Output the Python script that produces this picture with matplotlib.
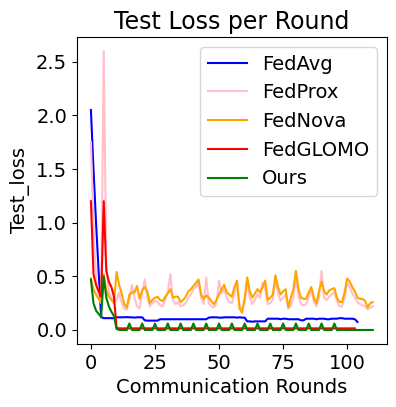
import matplotlib
matplotlib.use("Agg")
import matplotlib.pyplot as plt

# ==========================
# Data
# ==========================

fedavg = [
    2.05, 1.50, 1.00, 0.55, 0.12, 0.11, 0.11, 0.11, 0.11, 0.11,
    0.118, 0.118, 0.118, 0.118, 0.12, 0.118, 0.118, 0.115, 0.118, 0.118,
    0.118, 0.09, 0.087, 0.087, 0.087, 0.087, 0.087, 0.10, 0.10, 0.10,
    0.10, 0.10, 0.10, 0.10, 0.10, 0.10, 0.10, 0.10, 0.10, 0.10,
    0.10, 0.10, 0.10, 0.10, 0.10, 0.10, 0.115, 0.118, 0.118, 0.118,
    0.115, 0.115, 0.118, 0.118, 0.118, 0.118, 0.118, 0.115, 0.118, 0.115,
    0.115, 0.08, 0.08, 0.077, 0.08, 0.08, 0.08, 0.08, 0.08, 0.105,
    0.105, 0.105, 0.105, 0.105, 0.10, 0.105, 0.105, 0.10, 0.10, 0.10,
    0.10, 0.10, 0.09, 0.09, 0.105, 0.105, 0.105, 0.105, 0.10, 0.105,
    0.105, 0.105, 0.10, 0.10, 0.105, 0.105, 0.105, 0.11, 0.11, 0.105,
    0.105, 0.105, 0.105, 0.10, 0.075,
]

fedprox = [
    1.75, 0.95, 0.50, 0.30, 0.25, 2.60, 0.60, 0.35, 0.30, 0.26,
    0.28, 0.35, 0.25, 0.20, 0.19, 0.28, 0.42, 0.30, 0.22, 0.20,
    0.35, 0.47, 0.30, 0.22, 0.25, 0.27, 0.26, 0.23, 0.22, 0.28,
    0.36, 0.52, 0.28, 0.24, 0.26, 0.22, 0.23, 0.25, 0.30, 0.33,
    0.38, 0.40, 0.45, 0.30, 0.24, 0.49, 0.25, 0.22, 0.21, 0.25,
    0.46, 0.34, 0.38, 0.30, 0.26, 0.25, 0.33, 0.44, 0.22, 0.20,
    0.25, 0.45, 0.30, 0.24, 0.28, 0.33, 0.30, 0.44, 0.38, 0.24,
    0.25, 0.28, 0.48, 0.34, 0.27, 0.30, 0.33, 0.20, 0.22, 0.30,
    0.50, 0.32, 0.24, 0.23, 0.24, 0.30, 0.38, 0.26, 0.22, 0.30,
    0.55, 0.30, 0.28, 0.31, 0.33, 0.35, 0.27, 0.22, 0.22, 0.30,
    0.44, 0.40, 0.34, 0.30, 0.26, 0.24, 0.23, 0.22, 0.19, 0.21,
    0.22,
]

fednova = [
    0.48, 0.38, 0.33, 0.29, 0.26, 0.52, 0.37, 0.31, 0.28, 0.25,
    0.54, 0.42, 0.34, 0.24, 0.21, 0.33, 0.35, 0.35, 0.41, 0.29,
    0.37, 0.40, 0.36, 0.25, 0.28, 0.30, 0.31, 0.28, 0.27, 0.31,
    0.34, 0.38, 0.30, 0.31, 0.31, 0.26, 0.28, 0.31, 0.36, 0.38,
    0.41, 0.44, 0.47, 0.33, 0.29, 0.32, 0.30, 0.27, 0.24, 0.28,
    0.33, 0.38, 0.42, 0.35, 0.33, 0.31, 0.40, 0.46, 0.20, 0.16,
    0.30, 0.49, 0.36, 0.30, 0.34, 0.38, 0.35, 0.40, 0.46, 0.28,
    0.30, 0.33, 0.51, 0.40, 0.33, 0.36, 0.38, 0.21, 0.30, 0.38,
    0.55, 0.38, 0.30, 0.29, 0.29, 0.35, 0.40, 0.30, 0.25, 0.36,
    0.45, 0.36, 0.33, 0.37, 0.38, 0.39, 0.30, 0.26, 0.26, 0.35,
    0.48, 0.45, 0.40, 0.36, 0.30, 0.29, 0.29, 0.27, 0.21, 0.25,
    0.26,
]

fedglomo = [
    1.20, 0.52, 0.42, 0.36, 0.31, 1.20, 0.55, 0.45, 0.40, 0.31,
    0.02,
] + [0.015] * 93

ours_early = [0.47, 0.25, 0.18, 0.15, 0.12, 0.50, 0.30, 0.22, 0.17, 0.13, 0.01]
ours_spike_rounds = [15, 20, 25, 30, 35, 40, 45, 50, 55, 60, 65, 70, 75, 80, 85, 90, 95]
ours_spike_height = 0.06

# ==========================
# Build Ours series
# ==========================

ours = ours_early + [0.0] * (111 - len(ours_early))
for r in ours_spike_rounds:
    ours[r] = ours_spike_height

series = [
    ("FedAvg", fedavg, "blue"),
    ("FedProx", fedprox, "pink"),
    ("FedNova", fednova, "orange"),
    ("FedGLOMO", fedglomo, "red"),
    ("Ours", ours, "green"),
]

# ==========================
# Plot
# ==========================

fig = plt.figure(figsize=(3.96, 4.07), dpi=100)
ax = fig.add_axes([0.194, 0.155, 0.783, 0.754])

for name, values, color in series:
    ax.plot(range(len(values)), values, color=color, label=name, linewidth=1.5)

ax.set_title("Test Loss per Round", fontsize=17)
ax.set_xlabel("Communication Rounds", fontsize=14)
ax.set_ylabel("Test_loss", fontsize=14)
ax.tick_params(labelsize=14)
ax.set_xticks([0, 25, 50, 75, 100])
ax.set_yticks([0.0, 0.5, 1.0, 1.5, 2.0, 2.5])
ax.legend(loc="upper right", fontsize=14)

fig.savefig("out.png", dpi=100)
